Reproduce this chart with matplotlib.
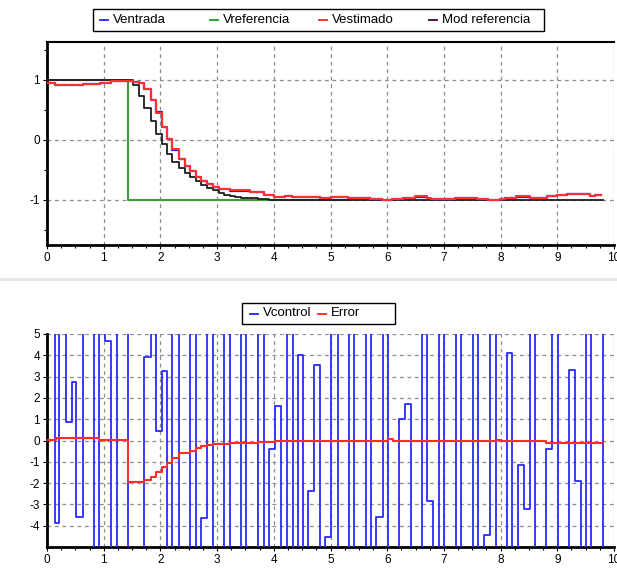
import matplotlib
matplotlib.use("Agg")
import matplotlib.pyplot as plt
from matplotlib.lines import Line2D
from matplotlib.patches import Rectangle
from matplotlib.ticker import MultipleLocator

plt.rcParams['font.family'] = ['Liberation Sans', 'DejaVu Sans']
plt.rcParams['axes.unicode_minus'] = False

# ---- top panel: reference / model / estimated / input (step signals) ----
ref_t = [0.0, 1.42, 5.30]
ref_v = [1.0, -1.0, -1.0]

mod_t = [0.0, 1.52, 1.62, 1.71, 1.83, 1.92, 2.02, 2.12, 2.21, 2.33, 2.43, 2.52,
         2.63, 2.72, 2.83, 2.93, 3.03, 3.13, 3.22, 3.32, 3.42, 3.51, 3.62, 3.73,
         3.82, 3.92, 9.80]
mod_v = [0.99, 0.92, 0.73, 0.53, 0.31, 0.09, -0.07, -0.23, -0.37, -0.47, -0.55,
         -0.62, -0.69, -0.75, -0.80, -0.84, -0.88, -0.91, -0.93, -0.95, -0.96,
         -0.97, -0.975, -0.98, -0.985, -1.0, -1.0]

est_t = [0.0, 0.14, 0.63, 0.93, 1.13, 1.52, 1.62, 1.71, 1.83, 1.92, 2.02, 2.12,
         2.21, 2.33, 2.43, 2.52, 2.63, 2.72, 2.83, 2.93, 3.03, 3.22, 3.58, 3.82,
         4.00, 4.20, 4.32, 4.82, 5.00, 5.31, 5.70, 5.90, 6.08, 6.28, 6.49, 6.70,
         6.78, 7.20, 7.58, 7.78, 7.99, 8.08, 8.28, 8.52, 8.81, 8.99, 9.17, 9.58,
         9.66, 9.77]
est_v = [0.955, 0.92, 0.93, 0.955, 0.98, 0.96, 0.94, 0.845, 0.67, 0.45, 0.22,
         0.02, -0.15, -0.31, -0.43, -0.51, -0.61, -0.68, -0.74, -0.78, -0.81,
         -0.84, -0.87, -0.91, -0.955, -0.93, -0.945, -0.96, -0.955, -0.96, -0.99,
         -1.0, -0.99, -0.96, -0.94, -0.975, -0.99, -0.96, -0.99, -1.0, -0.99,
         -0.96, -0.94, -0.96, -0.93, -0.92, -0.90, -0.94, -0.925, -0.925]
ent_v = [0.945, 0.92, 0.93, 0.955, 0.98, 0.965, 0.94, 0.855, 0.67, 0.46, 0.22,
         0.02, -0.16, -0.31, -0.44, -0.51, -0.61, -0.69, -0.74, -0.79, -0.81,
         -0.845, -0.875, -0.915, -0.955, -0.935, -0.95, -0.965, -0.955, -0.96,
         -0.99, -1.0, -0.99, -0.965, -0.945, -0.985, -0.99, -0.96, -0.99, -1.0,
         -0.99, -0.96, -0.945, -0.965, -0.935, -0.92, -0.905, -0.94, -0.925,
         -0.925]

# ---- bottom panel: control signal and error ----
ctl_t = [0.0, 0.135, 0.22, 0.33, 0.44, 0.52, 0.635, 0.83, 0.92, 1.02, 1.13, 1.23,
         1.42, 1.71, 1.83, 1.92, 2.02, 2.12, 2.21, 2.33, 2.52, 2.63, 2.72, 2.83,
         2.93, 3.13, 3.22, 3.42, 3.51, 3.73, 3.82, 3.92, 4.02, 4.13, 4.23, 4.33,
         4.42, 4.52, 4.61, 4.71, 4.81, 4.90, 5.01, 5.13, 5.32, 5.42, 5.63, 5.71,
         5.81, 5.92, 6.01, 6.21, 6.31, 6.42, 6.61, 6.71, 6.81, 6.91, 7.01, 7.21,
         7.31, 7.51, 7.61, 7.71, 7.81, 7.92, 8.11, 8.20, 8.30, 8.42, 8.51, 8.61,
         8.80, 8.91, 9.01, 9.20, 9.31, 9.41, 9.51, 9.60, 9.81]
ctl_v = [8, -3.85, 8, 0.89, 2.75, -3.57, 8, -8, 8, 4.65, -8, 8,
         -8, 3.93, 8, 0.45, 3.27, -8, 8, -8, 8, -8, -3.62, 8,
         -8, 8, -8, 8, -8, 8, -8, -0.41, 1.6, -8, 8, -8,
         4.0, -8, -2.36, 3.54, -8, -4.52, 8, -8, 8, -8, 8, -8,
         -3.6, 8, -8, 1.0, 1.7, -8, 8, -2.86, -8, 8, -8, 8,
         -8, 8, -8, -4.43, 8, -8, 4.13, -8, -1.14, -3.22, 8, -8,
         -0.41, 8, -8, 3.32, -1.89, -8, 8, -8, 8]

err_t = [0.0, 0.15, 0.92, 1.42, 1.71, 1.83, 1.92, 2.02, 2.12, 2.21, 2.33, 2.52,
         2.63, 2.72, 2.83, 2.93, 3.22, 3.73, 4.02, 6.01, 6.10, 7.92, 8.01, 8.80,
         9.81]
err_v = [0.03, 0.1, 0.03, -1.97, -1.87, -1.7, -1.46, -1.24, -1.04, -0.81, -0.61,
         -0.49, -0.36, -0.28, -0.2, -0.17, -0.12, -0.06, -0.02, 0.05, -0.04, 0.03,
         -0.04, -0.1, -0.1]

W, H = 617, 569
fig = plt.figure(figsize=(W / 100, H / 100), dpi=100)
fig.patch.set_facecolor('white')


def px_box(left, top, right, bottom):
    return [left / W, 1 - bottom / H, (right - left) / W, (bottom - top) / H]


def style_axes(ax, top_spine):
    ax.set_xlim(0, 10)
    ax.xaxis.set_major_locator(MultipleLocator(1))
    ax.xaxis.set_minor_locator(MultipleLocator(0.25))
    ax.grid(True, which='major', color='#8c8c8c', linestyle=(0, (3, 3)), linewidth=0.9)
    ax.tick_params(which='major', direction='out', length=3, width=0.8,
                   labelsize=8.5, colors='black', pad=2)
    ax.tick_params(which='minor', direction='out', length=2, width=0.8)
    for s in ('left', 'bottom'):
        ax.spines[s].set_linewidth(2.0)
        ax.spines[s].set_color('black')
    ax.spines['right'].set_visible(False)
    if top_spine:
        ax.spines['top'].set_linewidth(1.5)
    else:
        ax.spines['top'].set_visible(False)


def draw_legend(left, top, width, height, first_x, col_w, labels, colors):
    fig.add_artist(Rectangle((left / W, 1 - (top + height) / H), width / W, height / H,
                             transform=fig.transFigure, facecolor='white',
                             edgecolor='black', linewidth=1.0))
    yc = 1 - (top + height / 2) / H
    for i, (lab, col) in enumerate(zip(labels, colors)):
        x0 = first_x + i * col_w
        fig.add_artist(Line2D([x0 / W, (x0 + 8) / W], [yc, yc], color=col,
                              linewidth=1.3, transform=fig.transFigure))
        fig.text((x0 + 13) / W, yc, lab, fontsize=9.5, va='center', ha='left')


# top axes
ax1 = fig.add_axes(px_box(47, 42, 614, 245))
ax1.step(ref_t, ref_v, where='post', color='#3c9c3c', linewidth=1.5, zorder=3)
ax1.step(mod_t, mod_v, where='post', color='#1e1e1e', linewidth=1.3, zorder=4)
ax1.step(est_t, ent_v, where='post', color='#2020ff', linewidth=1.6, zorder=5)
ax1.step(est_t, est_v, where='post', color='#ff3030', linewidth=1.5, zorder=6)
ax1.set_ylim(-1.75, 1.63)
ax1.yaxis.set_major_locator(MultipleLocator(1))
ax1.yaxis.set_minor_locator(MultipleLocator(0.5))
style_axes(ax1, True)

# bottom axes
ax2 = fig.add_axes(px_box(47, 334, 614, 547))
ax2.step(ctl_t, ctl_v, where='post', color='#2a2aff', linewidth=1.3, zorder=3)
ax2.step(err_t, err_v, where='post', color='#ff2a2a', linewidth=1.5, zorder=4)
ax2.set_ylim(-5, 5)
ax2.set_yticks(range(-4, 6))
style_axes(ax2, False)

# separator band between the two panels
fig.add_artist(Rectangle((0, 1 - 281 / H), 1, 3 / H, transform=fig.transFigure,
                         facecolor='#e4e4e4', edgecolor='none'))

draw_legend(93, 9, 451, 22, 100, 109.5,
            ['Ventrada', 'Vreferencia', 'Vestimado', 'Mod referencia'],
            ['#2020ff', '#1a9a1a', '#ff2020', '#400040'])
draw_legend(242, 303, 153, 21, 250, 68,
            ['Vcontrol', 'Error'], ['#2020ff', '#ff2020'])

fig.savefig('out.png', dpi=100, facecolor='white')
